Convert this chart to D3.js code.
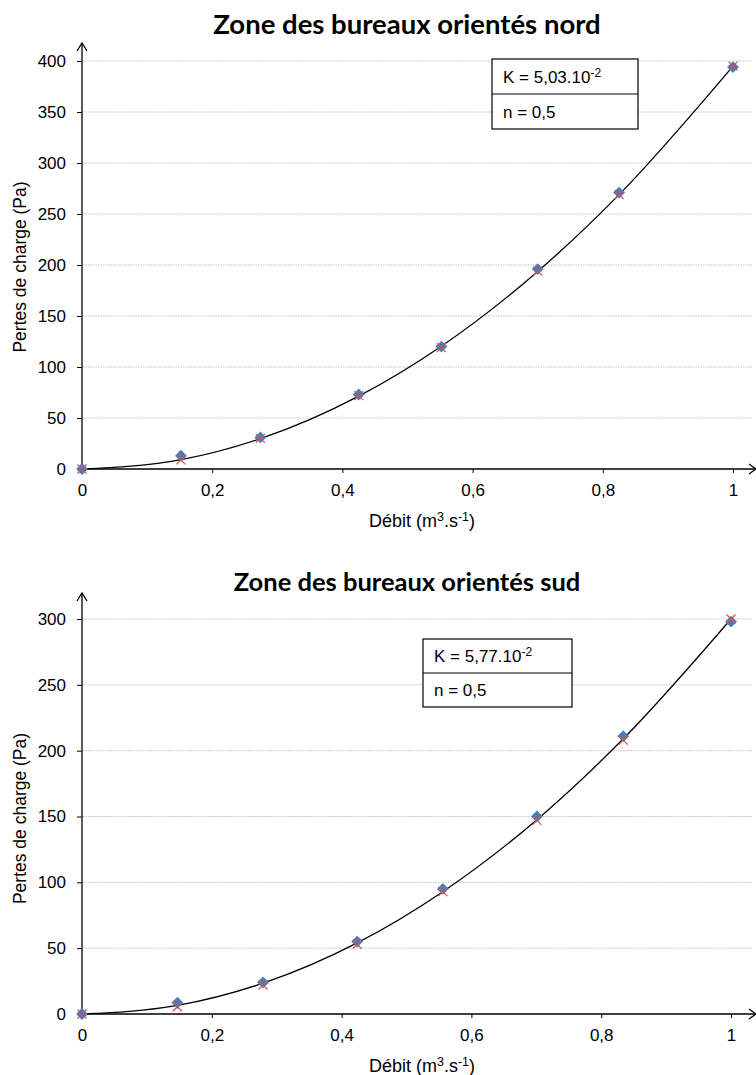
<!DOCTYPE html>
<html>
<head>
<meta charset="utf-8">
<script src="https://cdn.jsdelivr.net/npm/d3@7"></script>
<style>
  body { margin: 0; background: #fff; }
</style>
</head>
<body>
<div id="chart"></div>
<script>
// ---- data ----
const titles = ["Zone des bureaux orientés nord", "Zone des bureaux orientés sud"]
const kLabels = ["5,03.10", "5,77.10"]
const nLabel = "n = 0,5"

const northQ = [0, 0.152, 0.274, 0.425, 0.552, 0.700, 0.825, 1.0]
const northMes = [0, 13, 31, 73, 120, 196, 271, 394]
const northCalc = [0, 9, 30, 72, 119, 194, 269, 395]
const northFit = [0, 9.1, 29.7, 71.4, 120.4, 193.7, 269, 395]

const southQ = [0, 0.147, 0.279, 0.424, 0.556, 0.701, 0.834, 1.0]
const southMes = [0, 8.5, 24, 55, 95, 150, 211, 298]
const southCalc = [0, 5.5, 22, 53, 93, 147, 208, 300]
const southFit = [0, 6.5, 23.4, 54, 92.9, 147.6, 209, 300]

const xTicks = [0, 0.2, 0.4, 0.6, 0.8, 1]
const northYTicks = [0, 50, 100, 150, 200, 250, 300, 350, 400]
const southYTicks = [0, 50, 100, 150, 200, 250, 300]

const W = 756, H = 1075
const SANS = "'Liberation Sans', Arial, sans-serif"

var svg = d3.select("#chart")
  .append("svg")
    .attr("width", W)
    .attr("height", H)

const fmt = d => String(d).replace(".", ",")

function drawChart(o) {
  var g = svg.append("g")

  var x = d3.scaleLinear().domain([0, 1]).range([82, o.xEnd])
  var y = d3.scaleLinear().domain([0, o.yMax]).range([o.y0, o.yTop])

  // gridlines
  g.append("g").selectAll("line")
    .data(o.yTicks.filter(d => d > 0))
    .enter().append("line")
      .attr("x1", 83).attr("x2", 753)
      .attr("y1", d => y(d)).attr("y2", d => y(d))
      .attr("stroke", "#c4c4c4")
      .attr("stroke-dasharray", "1.5,1")
      .attr("stroke-width", 1)

  // y axis
  var ya = g.append("g")
    .attr("transform", "translate(82,0)")
    .call(d3.axisLeft(y).tickValues(o.yTicks).tickSize(5).tickPadding(11).tickFormat(d => d))
  ya.select(".domain").remove()
  ya.selectAll("text")
    .style("font-family", SANS).style("font-size", "17px").attr("fill", "#000")

  // x axis
  var xa = g.append("g")
    .attr("transform", "translate(0," + o.y0 + ")")
    .call(d3.axisBottom(x).tickValues(xTicks).tickSize(4).tickPadding(11).tickFormat(fmt))
  xa.select(".domain").remove()
  xa.selectAll("text")
    .style("font-family", SANS).style("font-size", "17px").attr("fill", "#000")

  // axis lines with open arrows
  g.append("line").attr("x1", 82).attr("x2", 82).attr("y1", o.y0).attr("y2", o.arrowTop)
    .attr("stroke", "#000").attr("stroke-width", 1.3)
  g.append("path").attr("d", `M77,${o.arrowTop + 8}L82,${o.arrowTop}L87,${o.arrowTop + 8}`)
    .attr("fill", "none").attr("stroke", "#000").attr("stroke-width", 1.3)
  g.append("line").attr("x1", 82).attr("x2", 755).attr("y1", o.y0).attr("y2", o.y0)
    .attr("stroke", "#000").attr("stroke-width", 1.3)
  g.append("path").attr("d", `M749,${o.y0 - 5}L756,${o.y0}L749,${o.y0 + 5}`)
    .attr("fill", "none").attr("stroke", "#000").attr("stroke-width", 1.3)

  // fitted curve
  var line = d3.line()
    .x(d => x(d[0]))
    .y(d => y(d[1]))
    .curve(d3.curveMonotoneX)
  g.append("path")
    .datum(o.q.map((q, i) => [q, o.fit[i]]))
    .attr("d", line)
    .attr("fill", "none")
    .attr("stroke", "#000")
    .attr("stroke-width", 1.3)

  // measured points (blue diamonds)
  g.append("g").selectAll("path")
    .data(o.q.map((q, i) => [q, o.mes[i]]))
    .enter().append("path")
      .attr("d", d3.symbol(d3.symbolDiamond2, 90))
      .attr("transform", d => `translate(${x(d[0])},${y(d[1])})`)
      .attr("fill", "#4a7ebb")

  // calculated points (red crosses)
  g.append("g").selectAll("path")
    .data(o.q.map((q, i) => [q, o.calc[i]]))
    .enter().append("path")
      .attr("d", "M-4.5,-4.5L4.5,4.5M-4.5,4.5L4.5,-4.5")
      .attr("transform", d => `translate(${x(d[0])},${y(d[1])})`)
      .attr("stroke", "#d0504d")
      .attr("stroke-width", 1.2)
      .attr("fill", "none")

  // title
  g.append("text")
    .attr("x", 407).attr("y", o.titleY)
    .attr("text-anchor", "middle")
    .style("font-family", "Lato, 'Open Sans', sans-serif")
    .style("font-weight", "bold")
    .style("font-size", o.titleSize + "px")
    .text(o.title)

  // axis titles
  g.append("text")
    .attr("transform", `translate(26,${(o.y0 + o.yTop) / 2 + 2}) rotate(-90)`)
    .attr("text-anchor", "middle")
    .style("font-family", SANS)
    .style("font-size", "17.5px")
    .text("Pertes de charge (Pa)")

  var xt = g.append("text")
    .attr("x", 422).attr("y", o.y0 + 58)
    .attr("text-anchor", "middle")
    .style("font-family", SANS)
    .style("font-size", "18px")
  xt.append("tspan").text("Débit (m")
  xt.append("tspan").attr("dy", -6).style("font-size", "12.5px").text("3")
  xt.append("tspan").attr("dy", 6).text(".s")
  xt.append("tspan").attr("dy", -6).style("font-size", "12.5px").text("-1")
  xt.append("tspan").attr("dy", 6).text(")")

  // K / n box
  var b = o.box
  g.append("rect")
    .attr("x", b.x).attr("y", b.y).attr("width", b.w).attr("height", b.h)
    .attr("fill", "#fff").attr("stroke", "#000").attr("stroke-width", 1.2)
  g.append("line")
    .attr("x1", b.x).attr("x2", b.x + b.w).attr("y1", b.y + b.h / 2).attr("y2", b.y + b.h / 2)
    .attr("stroke", "#000").attr("stroke-width", 1.2)
  var kt = g.append("text")
    .attr("x", b.x + 11).attr("y", b.y + b.h / 4 + 6)
    .style("font-family", SANS)
    .style("font-size", "17px")
  kt.append("tspan").text("K = " + o.k)
  kt.append("tspan").attr("dy", -6).style("font-size", "12px").text("-2")
  g.append("text")
    .attr("x", b.x + 11).attr("y", b.y + 3 * b.h / 4 + 6)
    .style("font-family", SANS)
    .style("font-size", "17px")
    .text(nLabel)
}

drawChart({
  title: titles[0], titleY: 34, titleSize: 27.5,
  q: northQ, mes: northMes, calc: northCalc, fit: northFit,
  yTicks: northYTicks, yMax: 400,
  y0: 469, yTop: 61, arrowTop: 43, xEnd: 733,
  k: kLabels[0],
  box: {x: 492, y: 59, w: 146, h: 70}
})

drawChart({
  title: titles[1], titleY: 591, titleSize: 25.5,
  q: southQ, mes: southMes, calc: southCalc, fit: southFit,
  yTicks: southYTicks, yMax: 300,
  y0: 1014, yTop: 619, arrowTop: 593, xEnd: 731,
  k: kLabels[1],
  box: {x: 423, y: 639, w: 149, h: 68}
})
</script>
</body>
</html>
